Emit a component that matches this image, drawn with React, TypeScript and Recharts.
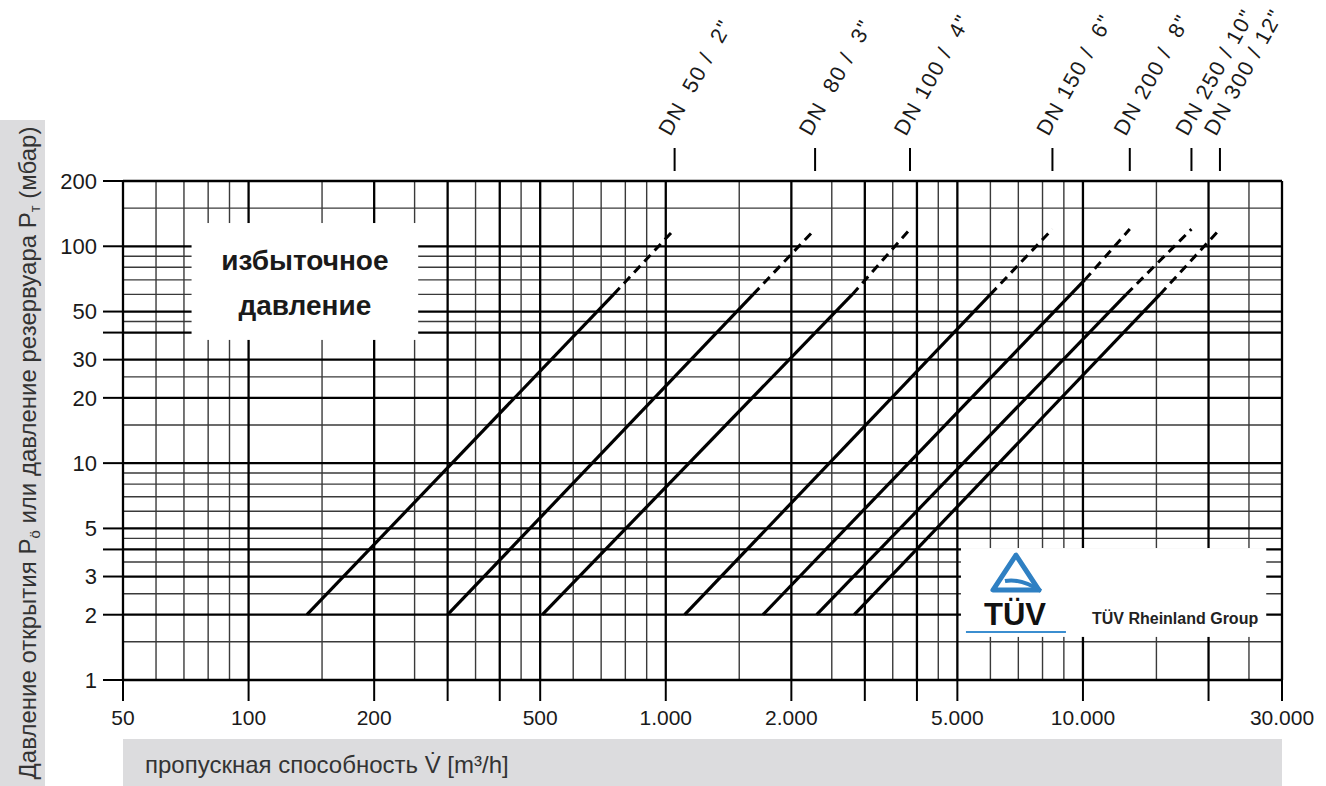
import React from 'react';
import { ComposedChart, Line, XAxis, YAxis, ReferenceLine, ReferenceArea } from 'recharts';

const FONT = '"Liberation Sans", Arial, Helvetica, sans-serif';

// ---- axis ticks / grid values ----
const xMajorTicks = [50, 100, 200, 300, 400, 500, 1000, 2000, 3000, 4000, 5000, 10000, 20000, 30000];
const xTickLabels = ['50', '100', '200', '', '', '500', '1.000', '2.000', '', '', '5.000', '10.000', '', '30.000'];
const xMinorGrid = [60, 70, 80, 90, 150, 250, 350, 450, 600, 700, 800, 900, 1500, 2500, 3500, 4500, 6000, 7000, 8000, 9000, 15000, 25000];
const yMajorTicks = [1, 2, 3, 4, 5, 10, 20, 30, 40, 50, 100, 200];
const yTickLabels = ['1', '2', '3', '', '5', '10', '20', '30', '', '50', '100', '200'];
const yMinorGrid = [1.5, 2.5, 3.5, 4.5, 6, 7, 8, 9, 15, 25, 45, 60, 70, 80, 90, 150];

// ---- series: flow at line start, end of solid part, end of dashed part ----
const dnNames = ['DN  50 /  2"', 'DN  80 /  3"', 'DN 100 /  4"', 'DN 150 /  6"', 'DN 200 /  8"', 'DN 250 / 10"', 'DN 300 / 12"'];
const startPressure = [2, 2, 2, 2, 2, 2, 2];
const solidEndPressure = [60, 60, 60, 60, 70, 60, 60];
const dashEndPressure = [120, 120, 120, 120, 120, 120, 120];
const flowDN50 = [138, 750, 1050];
const flowDN80 = [300, 1620, 2280];
const flowDN100 = [506, 2800, 3850];
const flowDN150 = [1110, 6000, 8450];
const flowDN200 = [1710, 10100, 12950];
const flowDN250 = [2300, 12700, 18200];
const flowDN300 = [2830, 15300, 21300];
const dnFlows = [flowDN50, flowDN80, flowDN100, flowDN150, flowDN200, flowDN250, flowDN300];
const dnEndFlows = dnFlows.map((f) => f[2]);

// ---- annotation boxes (data units) ----
const excessBox = { x1: 73, x2: 255, y1: 37, y2: 128 };
const tuvBox = { x1: 5100, x2: 27500, y1: 1.58, y2: 4.06 };

const solidData = dnFlows.map((f, i) => [
  { v: f[0], p: startPressure[i] },
  { v: f[1], p: solidEndPressure[i] },
]);
const dashData = dnFlows.map((f, i) => [
  { v: f[1], p: solidEndPressure[i] },
  { v: f[2], p: dashEndPressure[i] },
]);

const DnTick = (props: any) => {
  const { x, y, index } = props;
  const tx = x - 4;
  const ty = y - 44;
  return (
    <g>
      <line x1={x} x2={x} y1={y - 33} y2={y - 10} stroke="#000" strokeWidth={2} />
      <text
        x={tx}
        y={ty}
        transform={`rotate(-61 ${tx} ${ty})`}
        fontSize={21.5}
        letterSpacing={1.5}
        fontFamily={FONT}
        fill="#1a1a1a"
        style={{ whiteSpace: 'pre' }}
      >
        {dnNames[index]}
      </text>
    </g>
  );
};

const ExcessShape = (p: any) => {
  const { x, y, width, height } = p;
  const cx = x + width / 2;
  return (
    <g>
      <rect x={x} y={y} width={width} height={height} fill="#fff" />
      <text x={cx} y={y + 47} textAnchor="middle" fontSize={28} fontWeight="bold" fill="#1a1a1a" fontFamily={FONT}>
        избыточное
      </text>
      <text x={cx} y={y + 92} textAnchor="middle" fontSize={28} fontWeight="bold" fill="#1a1a1a" fontFamily={FONT}>
        давление
      </text>
    </g>
  );
};

const TuvShape = (p: any) => {
  const { x, y, width, height } = p;
  return (
    <g>
      <rect x={x} y={y} width={width} height={height} fill="#fff" />
      <path
        d={`M${x + 55},${y + 7} L${x + 32},${y + 42} L${x + 78},${y + 42} Z`}
        fill="none"
        stroke="#2f80c3"
        strokeWidth={5}
        strokeLinejoin="round"
      />
      <path
        d={`M${x + 44},${y + 33} Q${x + 60},${y + 30} ${x + 80},${y + 43}`}
        fill="none"
        stroke="#2f80c3"
        strokeWidth={4}
      />
      <text x={x + 54} y={y + 77} textAnchor="middle" fontSize={31} fontWeight="bold" fill="#111" fontFamily={FONT}>
        TÜV
      </text>
      <line x1={x + 5} x2={x + 105} y1={y + 84} y2={y + 84} stroke="#3b8ed0" strokeWidth={2} />
      <text x={x + 131} y={y + 76} fontSize={16} fontWeight="bold" fill="#222" fontFamily={FONT}>
        TÜV Rheinland Group
      </text>
    </g>
  );
};

export default function App() {
  return (
    <div style={{ position: 'absolute', left: 0, top: 0, width: 1326, height: 786, background: '#fff', overflow: 'hidden' }}>
      <svg style={{ position: 'absolute', left: 0, top: 0 }} width={1326} height={786}>
        <rect x={0} y={120} width={45} height={666} fill="#dcdcde" />
        <rect x={123} y={739} width={1159} height={47} fill="#dcdcde" />
        <text x={145} y={773} fontSize={24} fill="#333" fontFamily={FONT}>
          пропускная способность V̇ [m³/h]
        </text>
        <text transform="translate(36,453) rotate(-90)" textAnchor="middle" fontSize={24} fill="#333" fontFamily={FONT}>
          Давление открытия P
          <tspan fontSize={15} dy={4}>ö</tspan>
          <tspan dy={-4}> или давление резервуара P</tspan>
          <tspan fontSize={15} dy={4}>т</tspan>
          <tspan dy={-4}> (мбар)</tspan>
        </text>
      </svg>
      <div style={{ position: 'absolute', left: 0, top: 0 }}>
        <ComposedChart width={1326} height={786} margin={{ top: 0, right: 44, bottom: 0, left: 0 }}>
          <XAxis
            dataKey="v"
            type="number"
            scale="log"
            domain={[50, 30000]}
            allowDataOverflow
            ticks={xMajorTicks}
            interval={0}
            tickFormatter={(v: number, i: number) => xTickLabels[i]}
            tickSize={21}
            tickMargin={9}
            axisLine={false}
            tickLine={{ stroke: '#000', strokeWidth: 2 }}
            tick={{ fontSize: 21, fill: '#1a1a1a', fontFamily: FONT }}
            height={106}
          />
          <XAxis
            xAxisId="top"
            orientation="top"
            dataKey="v"
            type="number"
            scale="log"
            domain={[50, 30000]}
            allowDataOverflow
            ticks={dnEndFlows}
            interval={0}
            tickSize={0}
            tickMargin={0}
            axisLine={false}
            tickLine={false}
            tick={<DnTick />}
            height={181}
          />
          <YAxis
            dataKey="p"
            type="number"
            scale="log"
            domain={[1, 200]}
            allowDataOverflow
            ticks={yMajorTicks}
            interval={0}
            tickFormatter={(v: number, i: number) => yTickLabels[i]}
            tickSize={20}
            tickMargin={6}
            axisLine={false}
            tickLine={{ stroke: '#000', strokeWidth: 2 }}
            tick={{ fontSize: 22, fill: '#1a1a1a', fontFamily: FONT }}
            width={123}
          />
          {xMinorGrid.map((v) => (
            <ReferenceLine key={'xm' + v} x={v} stroke="#3a3a3a" strokeWidth={1.4} zIndex={10} />
          ))}
          {yMinorGrid.map((v) => (
            <ReferenceLine key={'ym' + v} y={v} stroke="#3a3a3a" strokeWidth={1.4} zIndex={10} />
          ))}
          {xMajorTicks.map((v) => (
            <ReferenceLine key={'xM' + v} x={v} stroke="#000" strokeWidth={2.3} zIndex={20} />
          ))}
          {yMajorTicks.map((v) => (
            <ReferenceLine key={'yM' + v} y={v} stroke="#000" strokeWidth={2.3} zIndex={20} />
          ))}
          <ReferenceArea {...excessBox} zIndex={450} shape={(p: any) => <ExcessShape {...p} />} />
          <ReferenceArea {...tuvBox} zIndex={450} shape={(p: any) => <TuvShape {...p} />} />
          {solidData.map((d, i) => (
            <Line
              key={'s' + i}
              data={d}
              dataKey="p"
              type="linear"
              stroke="#000"
              strokeWidth={3.2}
              dot={false}
              activeDot={false}
              isAnimationActive={false}
            />
          ))}
          {dashData.map((d, i) => (
            <Line
              key={'d' + i}
              data={d}
              dataKey="p"
              type="linear"
              stroke="#000"
              strokeWidth={3}
              strokeDasharray="9 6"
              dot={false}
              activeDot={false}
              isAnimationActive={false}
            />
          ))}
        </ComposedChart>
      </div>
    </div>
  );
}
